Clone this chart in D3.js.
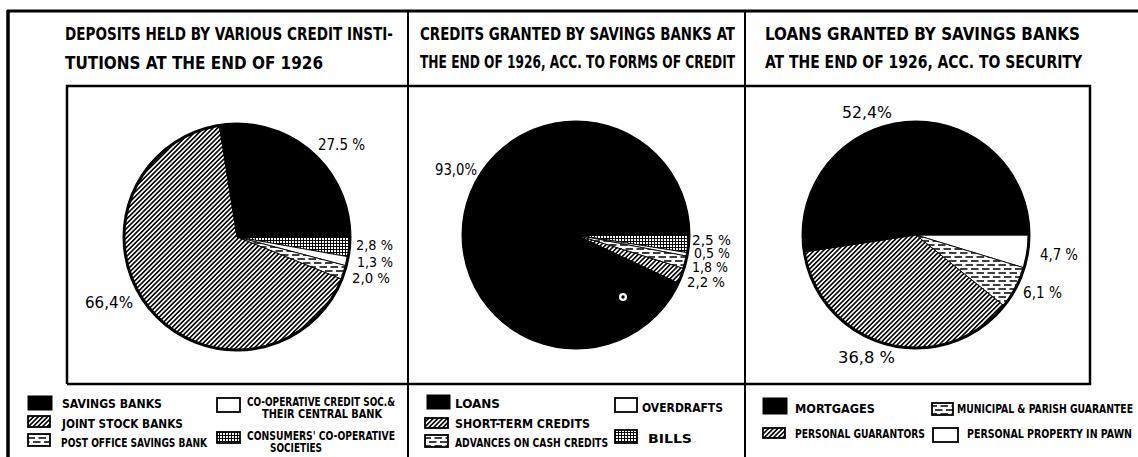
<!DOCTYPE html>
<html><head><meta charset="utf-8">
<script src="https://cdn.jsdelivr.net/npm/d3@7"></script>
<style>
body{margin:0;background:#fff}
svg{display:block}
.t{font-family:"DejaVu Sans Condensed","Liberation Sans Narrow","DejaVu Sans",sans-serif;font-weight:bold;font-stretch:condensed;fill:#000}
.p{font-family:"DejaVu Sans Condensed","DejaVu Sans",sans-serif;font-stretch:condensed;fill:#000}
</style></head>
<body><svg id="c" width="1138" height="457"></svg>
<script>
// ---------- DATA ----------
const depositCategories = ["CONSUMERS' CO-OPERATIVE SOCIETIES","CO-OPERATIVE CREDIT SOC.& THEIR CENTRAL BANK","POST OFFICE SAVINGS BANK","JOINT STOCK BANKS","SAVINGS BANKS"];
const depositValues = [2.8, 1.3, 2.0, 66.4, 27.5];
const depositLabels = ["2,8 %","1,3 %","2,0 %","66,4%","27.5 %"];

const creditCategories = ["BILLS","OVERDRAFTS","ADVANCES ON CASH CREDITS","SHORT-TERM CREDITS","LOANS"];
const creditValues = [2.5, 0.5, 1.8, 2.2, 93.0];
const creditLabels = ["2,5 %","0,5 %","1,8 %","2,2 %","93,0%"];

const loanCategories = ["PERSONAL PROPERTY IN PAWN","MUNICIPAL & PARISH GUARANTEE","PERSONAL GUARANTORS","MORTGAGES"];
const loanValues = [4.7, 6.1, 36.8, 52.4];
const loanLabels = ["4,7 %","6,1 %","36,8 %","52,4%"];

const titleLines1 = ["DEPOSITS HELD BY VARIOUS CREDIT INSTI-","TUTIONS AT THE END OF 1926"];
const titleLines2 = ["CREDITS GRANTED BY SAVINGS BANKS AT","THE END OF 1926, ACC. TO FORMS OF CREDIT"];
const titleLines3 = ["LOANS GRANTED  BY SAVINGS BANKS","AT THE END OF 1926, ACC. TO SECURITY"];

// ---------- STYLE / LAYOUT ----------
const fillOf = {
  "SAVINGS BANKS":"solid","JOINT STOCK BANKS":"hatch","POST OFFICE SAVINGS BANK":"dash",
  "CO-OPERATIVE CREDIT SOC.& THEIR CENTRAL BANK":"white","CONSUMERS' CO-OPERATIVE SOCIETIES":"grid",
  "LOANS":"solid","SHORT-TERM CREDITS":"hatch","ADVANCES ON CASH CREDITS":"dash","OVERDRAFTS":"white","BILLS":"grid",
  "MORTGAGES":"solid","PERSONAL GUARANTORS":"hatch","MUNICIPAL & PARISH GUARANTEE":"dash","PERSONAL PROPERTY IN PAWN":"white"
};
const fillUrl = k => k==="solid" ? "#000" : k==="white" ? "#fff" : `url(#${k})`;

const panels = [
  { cats:depositCategories, vals:depositValues, labels:depositLabels, titles:titleLines1,
    cx:237, cy:237, r:113,
    titlePos:[{x:65,y:40,w:328},{x:65,y:69,w:258}],
    labelOff:[[119,13],[120,30],[115,46],[-152,71],[81,-87]],
    labelW:[37,36,38,48,47], labelFs:[14.5,14.5,14.5,15,15],
    legend:[
      {cat:"SAVINGS BANKS", sw:[28,396,24,14], lines:[{t:"SAVINGS BANKS",x:62,y:408,w:100}]},
      {cat:"JOINT STOCK BANKS", sw:[28,416,22,11], lines:[{t:"JOINT STOCK BANKS",x:62,y:428,w:121}]},
      {cat:"POST OFFICE SAVINGS BANK", sw:[28,434,22,12], lines:[{t:"POST OFFICE SAVINGS BANK",x:61,y:447,w:146}]},
      {cat:"CO-OPERATIVE CREDIT SOC.& THEIR CENTRAL BANK", sw:[217,398,23,14], lines:[{t:"CO-OPERATIVE CREDIT SOC.&",x:247,y:406,w:148},{t:"THEIR CENTRAL BANK",x:262,y:418,w:120}]},
      {cat:"CONSUMERS' CO-OPERATIVE SOCIETIES", sw:[217,432,23,11], lines:[{t:"CONSUMERS' CO-OPERATIVE",x:247,y:440,w:148},{t:"SOCIETIES",x:270,y:452,w:52}]}
    ]},
  { cats:creditCategories, vals:creditValues, labels:creditLabels, titles:titleLines2,
    cx:576, cy:235, r:113,
    titlePos:[{x:420,y:40,w:315},{x:420,y:68,w:315}],
    labelOff:[[116,10],[118,23],[116,37],[111,52],[-141,-60]],
    labelW:[39,36,36,38,42], labelFs:[13.5,13.5,13.5,13.5,15],
    legend:[
      {cat:"LOANS", sw:[427,395,23,14], lines:[{t:"LOANS",x:455,y:408,w:45}]},
      {cat:"SHORT-TERM CREDITS", sw:[425,418,23,10], lines:[{t:"SHORT-TERM CREDITS",x:455,y:428,w:135}]},
      {cat:"ADVANCES ON CASH CREDITS", sw:[425,435,23,12], lines:[{t:"ADVANCES ON CASH CREDITS",x:455,y:447,w:153}]},
      {cat:"OVERDRAFTS", sw:[615,398,22,14], lines:[{t:"OVERDRAFTS",x:642,y:412,w:81}]},
      {cat:"BILLS", sw:[615,430,22,13], lines:[{t:"BILLS",x:648,y:443,w:44}]}
    ]},
  { cats:loanCategories, vals:loanValues, labels:loanLabels, titles:titleLines3,
    cx:916, cy:235, r:113,
    titlePos:[{x:765,y:40,w:315},{x:765,y:68,w:317}],
    labelOff:[[124,25],[107,63],[-78,128],[-74,-117]],
    labelW:[38,39,57,50], labelFs:[15,15,15,15],
    legend:[
      {cat:"MORTGAGES", sw:[763,398,24,16], lines:[{t:"MORTGAGES",x:795,y:413,w:80}]},
      {cat:"MUNICIPAL & PARISH GUARANTEE", sw:[932,403,21,12], lines:[{t:"MUNICIPAL & PARISH GUARANTEE",x:957,y:413,w:176}]},
      {cat:"PERSONAL GUARANTORS", sw:[763,428,22,10], lines:[{t:"PERSONAL GUARANTORS",x:795,y:438,w:130}]},
      {cat:"PERSONAL PROPERTY IN PAWN", sw:[933,428,25,14], lines:[{t:"PERSONAL PROPERTY IN PAWN",x:967,y:438,w:165}]}
    ]}
];

// ---------- DRAW ----------
const svg = d3.select("#c");
const defs = svg.append("defs");

const ph = defs.append("pattern").attr("id","hatch").attr("patternUnits","userSpaceOnUse")
  .attr("width",3.3).attr("height",3.3).attr("patternTransform","rotate(45)");
ph.append("rect").attr("width",3.3).attr("height",3.3).attr("fill","#fff");
ph.append("line").attr("x1",1.65).attr("x2",1.65).attr("y1",-1).attr("y2",5).attr("stroke","#000").attr("stroke-width",1.6);

const pd = defs.append("pattern").attr("id","dash").attr("patternUnits","userSpaceOnUse")
  .attr("width",11).attr("height",8);
pd.append("rect").attr("width",11).attr("height",8).attr("fill","#fff");
pd.append("path").attr("d","M0,2H7.5M5.5,6H11M-1,6H2").attr("stroke","#000").attr("stroke-width",1.6);

const pg = defs.append("pattern").attr("id","grid").attr("patternUnits","userSpaceOnUse")
  .attr("width",3).attr("height",3);
pg.append("rect").attr("width",3).attr("height",3).attr("fill","#fff");
pg.append("path").attr("d","M0,0.5H3M0.5,0V3").attr("stroke","#000").attr("stroke-width",1);

// frame lines
const frame = svg.append("g").attr("stroke","#000").attr("fill","none");
frame.append("line").attr("x1",7).attr("x2",1138).attr("y1",11).attr("y2",11).attr("stroke-width",3);
frame.append("line").attr("x1",8).attr("x2",8).attr("y1",10).attr("y2",457).attr("stroke-width",3.5);
frame.append("line").attr("x1",408).attr("x2",408).attr("y1",11).attr("y2",457).attr("stroke-width",2);
frame.append("line").attr("x1",745).attr("x2",745).attr("y1",11).attr("y2",457).attr("stroke-width",2);
// inner box
frame.append("path").attr("d","M67,384V86H1090V384H67").attr("stroke-width",2.5);

const pie = d3.pie().sort(null).startAngle(Math.PI/2).endAngle(Math.PI/2 + 2*Math.PI);

panels.forEach(p => {
  const g = svg.append("g");
  // titles
  p.titles.forEach((t,i) => {
    const tp = p.titlePos[i];
    g.append("text").attr("class","t").attr("x",tp.x).attr("y",tp.y)
      .attr("font-size",18).attr("textLength",tp.w).attr("lengthAdjust","spacingAndGlyphs").text(t);
  });
  // pie
  const arc = d3.arc().innerRadius(0).outerRadius(p.r);
  const arcs = pie(p.vals);
  const pg2 = g.append("g").attr("transform",`translate(${p.cx},${p.cy})`);
  pg2.selectAll("path").data(arcs).join("path")
    .attr("d",arc)
    .attr("fill",(d,i)=>fillUrl(fillOf[p.cats[i]]))
    .attr("stroke","#000").attr("stroke-width",0.9).attr("stroke-linejoin","round");
  pg2.append("circle").attr("r",p.r).attr("fill","none").attr("stroke","#000").attr("stroke-width",3);
  // labels
  p.labels.forEach((l,i)=>{
    g.append("text").attr("class","p").attr("x",p.cx+p.labelOff[i][0]).attr("y",p.cy+p.labelOff[i][1])
      .attr("font-size",p.labelFs[i]).attr("textLength",p.labelW[i]).attr("lengthAdjust","spacingAndGlyphs").text(l);
  });
  // legend
  p.legend.forEach(it=>{
    const [x,y,w,h] = it.sw;
    const k = fillOf[it.cat];
    g.append("rect").attr("x",x).attr("y",y).attr("width",w).attr("height",h)
      .attr("fill",fillUrl(k)).attr("stroke","#000").attr("stroke-width",k==="solid"?1:1.8);
    it.lines.forEach(ln=>{
      g.append("text").attr("class","t").attr("x",ln.x).attr("y",ln.y)
        .attr("font-size",13).attr("textLength",ln.w).attr("lengthAdjust","spacingAndGlyphs").text(ln.t);
    });
  });
});

// printing flaw: small white ring inside the loans slice
svg.append("circle").attr("cx",623).attr("cy",297).attr("r",4).attr("fill","#fff");
svg.append("circle").attr("cx",623).attr("cy",297).attr("r",1.7).attr("fill","#000");
</script>
</body></html>
